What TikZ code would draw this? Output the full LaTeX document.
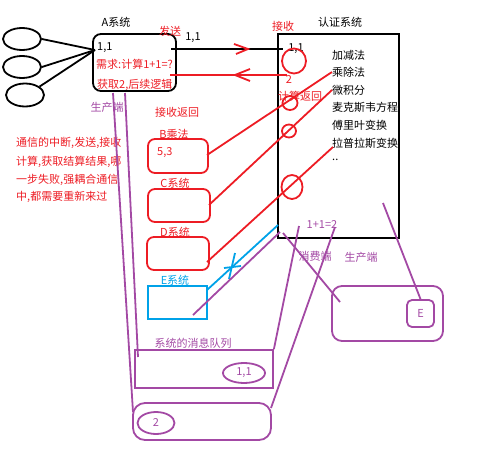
\documentclass[tikz,border=0pt]{standalone}
\usepackage{fontspec}
\setmainfont{Noto Sans CJK SC}
\usetikzlibrary{shapes.geometric}
\definecolor{mred}{RGB}{237,28,36}
\definecolor{mpur}{RGB}{163,73,164}
\definecolor{mblue}{RGB}{0,162,232}
\tikzset{
  txt/.style={inner sep=0pt, font=\fontsize{11}{13}\selectfont},
  ell/.style={draw, ellipse, inner sep=0pt, line width=1.8pt},
  box/.style={draw, rectangle, inner sep=0pt, line width=1.8pt},
  ln/.style={line width=1.8pt},
}
\begin{document}
\begin{tikzpicture}[x=1pt,y=-1pt]
\useasboundingbox (0,0) rectangle (480,453);
% left ellipses
\node[ell, minimum width=38pt, minimum height=22pt] (e1) at (22,39) {};
\node[ell, minimum width=38pt, minimum height=22pt] (e2) at (22,67) {};
\node[ell, minimum width=38pt, minimum height=23pt] (e3) at (25,95) {};
% A system
\node[box, rounded corners=8pt, minimum width=83pt, minimum height=57pt] (A) at (134.5,62.5) {};
\node[txt] (Alab) at (116,22) {A系统};
\coordinate (Ain) at (95,50);
\draw[ln] (e1.east) -- (Ain);
\draw[ln] (e2.east) -- (Ain);
\draw[ln] (e3.30) -- (Ain);
\node[txt, anchor=west] (A11) at (97,48) {1,1};
\node[txt, anchor=west, text=mred] (Aneed) at (96,64) {需求:计算1+1=?};
\node[txt, anchor=west, text=mred] (Aget) at (97,85) {获取2,后续逻辑};
% auth system
\node[box, minimum width=121pt, minimum height=204pt] (auth) at (338.5,136) {};
\node[txt] (authlab) at (340,22) {认证系统};
\node[txt, text=mred] (recv) at (283,26) {接收};
\node[txt, text=mred] (send) at (170,31) {发送};
\node[txt] (s11) at (193,38) {1,1};
\node[txt] (r11) at (296,49) {1,1};
\node[txt, text=mred] (r2) at (289,80) {2};
\node[txt, text=mred] (calcret) at (300,96) {计算返回};
\node[txt, anchor=west] (l1) at (332,55) {加减法};
\node[txt, anchor=west] (l2) at (332,72) {乘除法};
\node[txt, anchor=west] (l3) at (332,90) {微积分};
\node[txt, anchor=west] (l4) at (332,107) {麦克斯韦方程};
\node[txt, anchor=west] (l5) at (332,125) {傅里叶变换};
\node[txt, anchor=west] (l6) at (332,143) {拉普拉斯变换};
\node[txt, anchor=west] (l7) at (332,160) {..};
% send / return lines
\coordinate (sA) at (171,49);
\coordinate (sB) at (283,49);
\draw[ln] (sA) -- (sB);
\coordinate (sT) at (248,49);
\draw[ln, mred] (234,44) -- (sT) -- (236,54);
\coordinate (rA) at (170,75);
\coordinate (rB) at (287,75);
\draw[ln, mred] (rB) -- (rA);
\coordinate (rT) at (235,75);
\draw[ln, mred] (250,69) -- (rT) -- (250,81);
% red circles
\node[ell, draw=mred, minimum width=24pt, minimum height=25pt] (c1) at (294,61) {};
\node[ell, draw=mred, minimum width=15pt, minimum height=14pt] (c2) at (290,103) {};
\node[ell, draw=mred, minimum width=14pt, minimum height=13pt] (c3) at (289,131) {};
\node[ell, draw=mred, minimum width=21pt, minimum height=24pt] (c4) at (292,187) {};
% B C D E
\node[txt, text=mred] (recvret) at (177,112) {接收返回};
\node[box, draw=mred, rounded corners=7pt, minimum width=60pt, minimum height=34pt] (B) at (178,156) {};
\node[txt, text=mred] (Blab) at (174,134) {B乘法};
\node[txt, text=mred, anchor=west] (B53) at (157,153) {5,3};
\node[box, draw=mred, rounded corners=7pt, minimum width=62pt, minimum height=33pt] (C) at (179,205.5) {};
\node[txt, text=mred] (Clab) at (175,183) {C系统};
\node[box, draw=mred, rounded corners=7pt, minimum width=62pt, minimum height=33pt] (D) at (178,253.5) {};
\node[txt, text=mred] (Dlab) at (175,232) {D系统};
\node[box, draw=mblue, minimum width=59pt, minimum height=33pt] (E) at (177.5,302.5) {};
\node[txt, text=mblue] (Elab) at (175,280) {E系统};
% red connectors
\coordinate (Bo) at (207,155);
\coordinate (Ci) at (209,205);
\coordinate (Do) at (207,262);
\draw[ln, mred] (Bo) -- (l2.west);
\draw[ln, mred] (Ci) -- (l3.west);
\draw[ln, mred] (Do) -- (333,147);
% blue connector with cross
\coordinate (Eo) at (207,290);
\coordinate (aB) at (278,225);
\draw[ln, mblue] (Eo) -- (aB);
\draw[ln, mblue] (235,253) -- (229,279);
\draw[ln, mblue] (224,268) -- (241,266);
% left text
\node[txt, text=mred, anchor=west] (n1) at (16,143) {通信的中断,发送,接收};
\node[txt, text=mred, anchor=west] (n2) at (16,162) {计算,获取结算结果,哪};
\node[txt, text=mred, anchor=west] (n3) at (16,180) {一步失败,强耦合通信};
\node[txt, text=mred, anchor=west] (n4) at (16,197) {中,都需要重新来过};
% purple parts
\node[txt, text=mpur] (prod1) at (107,107) {生产端};
\node[box, draw=mpur, minimum width=138pt, minimum height=38pt] (Q) at (204,369) {};
\node[txt, text=mpur] (Qlab) at (193,343) {系统的消息队列};
\node[ell, draw=mpur, minimum width=42pt, minimum height=20pt, text=mpur] (q11) at (244,373) {\fontsize{11}{13}\selectfont 1,1};
\node[box, draw=mpur, rounded corners=12pt, minimum width=138pt, minimum height=37pt] (Bot) at (202,421.5) {};
\node[ell, draw=mpur, minimum width=37pt, minimum height=22pt, text=mpur] (q2) at (156,423) {\fontsize{11}{13}\selectfont 2};
\node[box, draw=mpur, rounded corners=10pt, minimum width=111pt, minimum height=55pt] (R) at (387.5,313.5) {};
\node[box, draw=mpur, rounded corners=5pt, minimum width=27pt, minimum height=27pt, text=mpur] (Es) at (420.5,313.5) {\fontsize{11}{13}\selectfont E};
\node[txt, text=mpur] (res) at (322,225) {1+1=2};
\node[txt, text=mpur] (cons) at (315,256) {消费端};
\node[txt, text=mpur] (prod2) at (361,257) {生产端};
% purple connectors
\coordinate (Ab1) at (113,93);
\coordinate (Ab2) at (125,93);
\coordinate (BotL) at (133,412);
\coordinate (QL) at (138,357);
\draw[ln, mpur] (Ab1) -- (BotL);
\draw[ln, mpur] (Ab2) -- (QL);
\coordinate (Ein) at (193,315);
\draw[ln, mpur] (Ein) -- (280,232);
\draw[ln, mpur] (299,226) -- (Q.north east);
\draw[ln, mpur] (335,227) -- (271,408);
\draw[ln, mpur] (283,233) -- (340,302);
\draw[ln, mpur] (383,203) -- (Es.north);
\end{tikzpicture}
\end{document}
